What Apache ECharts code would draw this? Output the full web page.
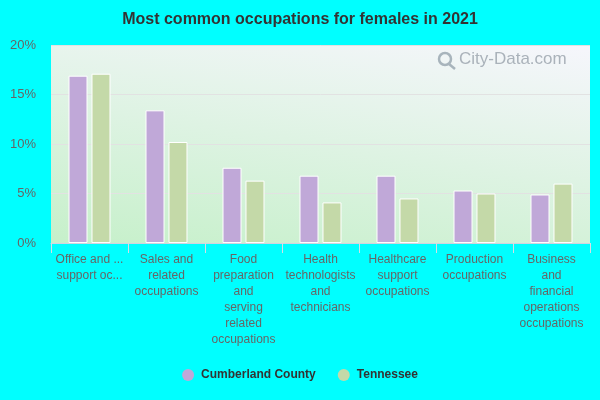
<!DOCTYPE html>
<html><head><meta charset="utf-8">
<script src="https://cdn.jsdelivr.net/npm/echarts@6/dist/echarts.min.js"></script>
<style>html,body{margin:0;padding:0;background:#00ffff;}#c{width:600px;height:400px;}</style>
</head><body><div id="c"></div>
<script>
const categories = ["Office and administrative support occupations","Sales and related occupations","Food preparation and serving related occupations","Health technologists and technicians","Healthcare support occupations","Production occupations","Business and financial operations occupations"];
const tickLabels = ["Office and ...\nsupport oc...","Sales and\nrelated\noccupations","Food\npreparation\nand\nserving\nrelated\noccupations","Health\ntechnologists\nand\ntechnicians","Healthcare\nsupport\noccupations","Production\noccupations","Business\nand\nfinancial\noperations\noccupations"];
const cumberland = [16.9, 13.4, 7.6, 6.8, 6.8, 5.3, 4.9];
const tennessee = [17.1, 10.2, 6.3, 4.1, 4.5, 5.0, 6.0];
const yTicks = [0, 5, 10, 15, 20];

const FONT = 'Arial, "Liberation Sans", sans-serif';
const chart = echarts.init(document.getElementById('c'));
chart.setOption({
  backgroundColor: '#00ffff',
  animation: false,
  title: { text: 'Most common occupations for females in 2021', left: 'center', top: 7,
    textStyle: { fontFamily: FONT, fontSize: 16, fontWeight: 'bold', color: '#333' } },
  legend: { top: 364, left: 'center', itemGap: 22, icon: 'circle', itemWidth: 12, itemHeight: 12,
    itemStyle: { borderWidth: 0 },
    textStyle: { fontFamily: FONT, fontSize: 12, fontWeight: 'bold', color: '#333', padding: [0, 0, 0, 2] },
    data: ['Cumberland County', 'Tennessee'] },
  grid: { left: 51, right: 10, top: 45, bottom: 157, show: true, borderWidth: 0,
    backgroundColor: { type: 'linear', x: 0, y: 1, x2: 0.08, y2: -0.39,
      colorStops: [{ offset: 0, color: '#c6f0ca' }, { offset: 1, color: '#f6f6fc' }] } },
  xAxis: { type: 'category', data: categories,
    axisLine: { lineStyle: { color: '#d0d4e0' } },
    axisTick: { show: true, length: 10, lineStyle: { color: '#d8dce4' } },
    axisLabel: { interval: 0, color: '#666', fontFamily: FONT, fontSize: 12, lineHeight: 16, margin: 9,
      formatter: (v, i) => tickLabels[i] } },
  yAxis: { type: 'value', min: 0, max: 20, interval: 5,
    axisLine: { show: false }, axisTick: { show: false },
    splitLine: { lineStyle: { color: '#e2e2e2' } },
    axisLabel: { color: '#666', fontFamily: FONT, fontSize: 13, margin: 15,
      formatter: v => yTicks.includes(v) ? v + '%' : '' } },
  series: [
    { name: 'Cumberland County', type: 'bar', data: cumberland, barWidth: 19, barGap: '21%',
      itemStyle: { color: '#c0a8d8', borderColor: '#fff', borderWidth: 1 } },
    { name: 'Tennessee', type: 'bar', data: tennessee, barWidth: 19,
      itemStyle: { color: '#c4d9a8', borderColor: '#fff', borderWidth: 1 } }
  ],
  graphic: [
    { type: 'circle', shape: { cx: 445, cy: 59, r: 6 }, style: { fill: 'none', stroke: '#a8b4bc', lineWidth: 2.5 } },
    { type: 'line', shape: { x1: 449, y1: 64, x2: 455, y2: 69 }, style: { stroke: '#a8b4bc', lineWidth: 2.5 } },
    { type: 'text', left: 459, top: 51,
      style: { text: 'City-Data.com', fill: '#aab2ba', font: '17px ' + FONT } }
  ]
});
</script></body></html>
